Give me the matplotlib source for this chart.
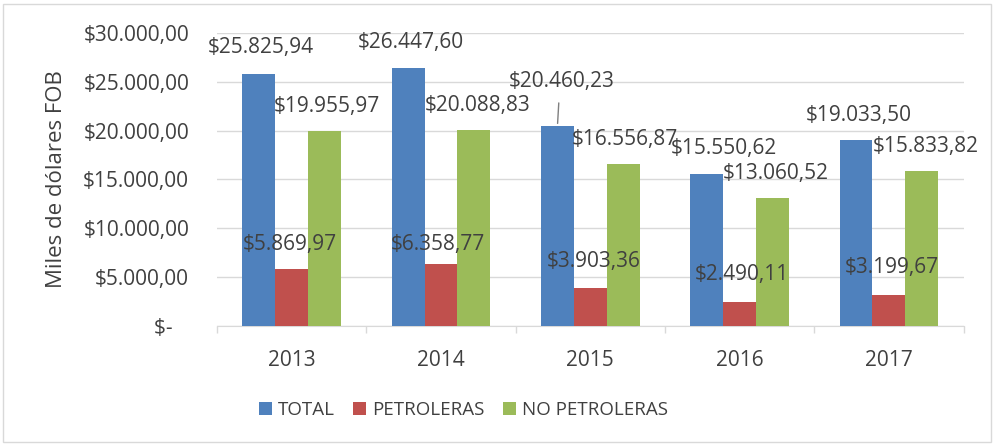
import matplotlib.pyplot as plt
import numpy as np
from matplotlib.patches import Rectangle

plt.rcParams['font.family'] = ['Open Sans', 'DejaVu Sans']

years = ['2013', '2014', '2015', '2016', '2017']
series_names = ['TOTAL', 'PETROLERAS', 'NO PETROLERAS']
total = [25825.94, 26447.60, 20460.23, 15550.62, 19033.50]
petroleras = [5869.97, 6358.77, 3903.36, 2490.11, 3199.67]
no_petroleras = [19955.97, 20088.83, 16556.87, 13060.52, 15833.82]
colors = ['#4f81bd', '#c0504d', '#9bbb59']
ytick_labels = ['$-   ', '$5.000,00', '$10.000,00', '$15.000,00', '$20.000,00', '$25.000,00', '$30.000,00']

# label offsets in pixels (dx from bar centre, dy above bar top), per series / year
label_offsets = [
    [(2, 26), (3, 25), (4, 45), (17, 26), (3, 25)],
    [(-2, 24), (-3, 19), (3, 26), (2, 27), (3, 27)],
    [(2, 25), (4, 24), (2, 25), (3, 25), (4, 25)],
]

def fmt(v):
    s = f'{v:,.2f}'
    return '$' + s.replace(',', 'X').replace('.', ',').replace('X', '.')

text_color = '#404040'
fs = 15
fig = plt.figure(figsize=(9.94, 4.47), dpi=100)
ax = fig.add_axes([0.2183, 0.2707, 0.7511, 0.6555])

x = np.arange(len(years))
w = 0.22
data = [total, petroleras, no_petroleras]
for i, (vals, c, name) in enumerate(zip(data, colors, series_names)):
    pos = x + (i - 1) * w
    ax.bar(pos, vals, width=w, color=c, label=name, zorder=3)
    for j, v in enumerate(vals):
        dx, dy = label_offsets[i][j]
        ax.annotate(fmt(v), xy=(pos[j], v), xytext=(dx * 0.72, dy * 0.72),
                    textcoords='offset points', ha='center', va='center',
                    fontsize=fs, color=text_color, zorder=5)
        if i == 0 and j == 2:
            # leader line for the 2015 total label
            ax.annotate('', xy=(pos[j], v), xytext=(1.5 * 0.72, 26 * 0.72),
                        textcoords='offset points',
                        arrowprops=dict(arrowstyle='-', color='#7f7f7f', lw=1))

ax.set_xlim(-0.5, len(years) - 0.5)
ax.set_ylim(0, 30000)
ax.set_yticks(np.arange(0, 30001, 5000))
ax.set_yticklabels(ytick_labels)
ax.set_xticks(x)
ax.set_xticklabels(years)
ax.set_xticks(np.arange(-0.5, len(years), 1), minor=True)
ax.tick_params(axis='x', which='major', length=0, pad=17, labelsize=fs, labelcolor=text_color)
ax.tick_params(axis='x', which='minor', length=5, color='#d9d9d9', width=1)
ax.tick_params(axis='y', length=0, pad=20, labelsize=fs, labelcolor=text_color)
ax.grid(axis='y', color='#d9d9d9', lw=1, zorder=0)
for s in ['left', 'right', 'top']:
    ax.spines[s].set_visible(False)
ax.spines['bottom'].set_color('#d9d9d9')
ax.set_ylabel('Miles de dólares FOB', fontsize=16, color=text_color, labelpad=12)

leg = fig.legend(loc='center', bbox_to_anchor=(0.466, 0.082), ncol=3, frameon=False,
                 fontsize=13.5, handlelength=0.7, handleheight=0.7, handletextpad=0.3,
                 columnspacing=1.0)
for t in leg.get_texts():
    t.set_color(text_color)

fig.patches.append(Rectangle((0.003, 0.012), 0.994, 0.98, transform=fig.transFigure,
                             fill=False, edgecolor='#d9d9d9', lw=1))

fig.savefig('out.png', dpi=100)
